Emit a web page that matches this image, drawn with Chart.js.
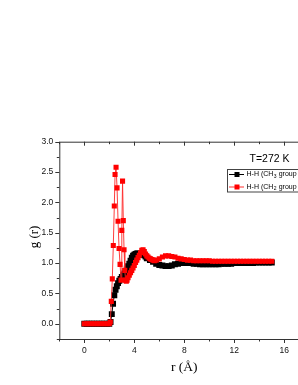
<!DOCTYPE html>
<html>
<head>
<meta charset="utf-8">
<script src="https://cdn.jsdelivr.net/npm/chart.js@4.4.0/dist/chart.umd.min.js"></script>
<style>
  html, body { margin: 0; padding: 0; background: #fff; overflow: hidden; }
  #wrap { position: relative; width: 320px; height: 385px; }
</style>
</head>
<body>
<div id="wrap"><canvas id="rdf"></canvas></div>
<script>
// H-H (CH3 group) - black
const ch3R = [0, 0.2, 0.4, 0.6, 0.8, 1.0, 1.2, 1.4, 1.6, 1.8, 2.0,
  2.1, 2.2, 2.3, 2.4, 2.5, 2.6, 2.7, 2.8, 2.9, 3.0, 3.1, 3.2, 3.3, 3.4, 3.5, 3.6, 3.7, 3.8, 3.9,
  4.0, 4.1, 4.2, 4.3, 4.4, 4.5, 4.6, 4.7, 4.8, 4.9,
  5.0, 5.25, 5.5, 5.75, 6.0, 6.25, 6.5, 6.75, 7.0, 7.25, 7.5, 7.75, 8.0, 8.25, 8.5, 8.75,
  9.0, 9.25, 9.5, 9.75, 10.0, 10.25, 10.5, 10.75, 11.0, 11.25, 11.5, 11.75, 12.0, 12.25,
  12.5, 12.75, 13.0, 13.25, 13.5, 13.75, 14.0, 14.25, 14.5, 14.75, 15.0];
const ch3G = [0, 0, 0, 0, 0, 0, 0, 0, 0, 0, 0,
  0.03, 0.16, 0.33, 0.47, 0.56, 0.62, 0.67, 0.71, 0.74, 0.77, 0.80, 0.83, 0.87, 0.91, 0.95, 0.99, 1.04, 1.09, 1.12,
  1.14, 1.15, 1.16, 1.16, 1.15, 1.15, 1.14, 1.14, 1.13, 1.11,
  1.08, 1.05, 1.02, 0.99, 0.97, 0.96, 0.95, 0.95, 0.96, 0.98, 0.99, 1.0, 1.0, 1.0, 1.0, 0.99,
  0.99, 0.98, 0.98, 0.98, 0.98, 0.98, 0.98, 0.98, 0.99, 0.99, 0.99, 0.99, 1.0, 1.0,
  1.0, 1.0, 1.0, 1.0, 1.0, 1.01, 1.01, 1.01, 1.01, 1.01, 1.01];

// H-H (CH2 group) - red
const ch2R = [0, 0.2, 0.4, 0.6, 0.8, 1.0, 1.2, 1.4, 1.6, 1.8, 2.0,
  2.08, 2.16, 2.24, 2.32, 2.40, 2.46, 2.54, 2.62, 2.70, 2.78, 2.86, 2.94, 3.00, 3.06, 3.12, 3.18,
  3.24, 3.30, 3.36, 3.42, 3.5, 3.6, 3.7, 3.8, 3.9, 4.0, 4.1, 4.2, 4.3, 4.4, 4.5, 4.6, 4.7, 4.8, 4.9,
  5.0, 5.1, 5.2, 5.3, 5.4, 5.5, 5.6, 5.75, 6.0, 6.25, 6.5, 6.75, 7.0, 7.25, 7.5, 7.75, 8.0,
  8.25, 8.5, 8.75, 9.0, 9.25, 9.5, 9.75, 10.0, 10.25, 10.5, 10.75, 11.0, 11.25, 11.5, 11.75,
  12.0, 12.25, 12.5, 12.75, 13.0, 13.25, 13.5, 13.75, 14.0, 14.25, 14.5, 14.75, 15.0];
const ch2G = [0, 0, 0, 0, 0, 0, 0, 0, 0, 0, 0,
  0.03, 0.37, 0.74, 1.29, 1.94, 2.46, 2.58, 2.24, 1.69, 1.24, 0.98, 0.72, 1.54, 2.35, 1.70, 1.22,
  0.88, 0.72, 0.70, 0.72, 0.76, 0.80, 0.84, 0.88, 0.92, 0.96, 1.01, 1.05, 1.09, 1.13, 1.17, 1.21, 1.22, 1.19, 1.15,
  1.12, 1.10, 1.08, 1.07, 1.06, 1.05, 1.04, 1.05, 1.07, 1.10, 1.12, 1.12, 1.11, 1.10, 1.08, 1.07, 1.06,
  1.05, 1.05, 1.04, 1.04, 1.04, 1.04, 1.04, 1.04, 1.03, 1.03, 1.03, 1.03, 1.03, 1.03, 1.03,
  1.03, 1.03, 1.03, 1.03, 1.03, 1.03, 1.03, 1.03, 1.03, 1.03, 1.03, 1.03, 1.03];

const xTicks = [0, 4, 8, 12, 16];
const yTicks = [0, 0.5, 1.0, 1.5, 2.0, 2.5, 3.0];
const tempLabel = 'T=272 K';

const toPts = (rs, gs) => rs.map((r, i) => ({ x: r, y: gs[i] }));

// axis frame, minor ticks, titles and the legend box
const decor = {
  id: 'decor',
  afterDraw(chart) {
    const ctx = chart.ctx;
    const a = chart.chartArea;
    const xs = chart.scales.x, ys = chart.scales.y;
    ctx.save();
    ctx.strokeStyle = '#333';
    ctx.lineWidth = 1;
    ctx.beginPath();
    ctx.rect(a.left + 0.5, a.top + 0.5, a.right - a.left, a.bottom - a.top);
    ctx.stroke();

    ctx.beginPath();
    for (let v = -2; v <= 18; v += 2) {
      const px = Math.round(xs.getPixelForValue(v)) + 0.5;
      const len = v % 4 === 0 ? 4 : 2.5;
      ctx.moveTo(px, a.bottom); ctx.lineTo(px, a.bottom + len);
      ctx.moveTo(px, a.top); ctx.lineTo(px, a.top + len);
    }
    for (let v = -0.25; v <= 3.001; v += 0.25) {
      const py = Math.round(ys.getPixelForValue(v)) + 0.5;
      const major = Math.abs(v * 2 - Math.round(v * 2)) < 1e-6;
      const len = major ? 4 : 2.5;
      ctx.moveTo(a.left, py); ctx.lineTo(a.left - len, py);
    }
    ctx.stroke();

    // axis titles
    ctx.fillStyle = '#000';
    ctx.font = '13.5px "Liberation Serif"';
    ctx.textAlign = 'center';
    ctx.textBaseline = 'middle';
    ctx.fillText('r (Å)', xs.getPixelForValue(8), 367);
    ctx.save();
    ctx.translate(34.5, 237);
    ctx.rotate(-Math.PI / 2);
    ctx.font = '13px "Liberation Serif"';
    ctx.fillText('g (r)', 0, 0);
    ctx.restore();

    // temperature
    ctx.textAlign = 'left';
    ctx.font = '10.5px "Liberation Sans"';
    ctx.fillText(tempLabel, 249.5, 159.5);

    // legend
    ctx.strokeStyle = '#444';
    ctx.strokeRect(227.5, 169.5, 100, 22.5);
    const entries = [
      { color: '#000', sub: '3', y: 174.5 },
      { color: '#ff0000', sub: '2', y: 187 }
    ];
    entries.forEach(e => {
      ctx.strokeStyle = e.color === '#000' ? '#000' : '#ff3030';
      ctx.beginPath();
      ctx.moveTo(229, e.y); ctx.lineTo(244, e.y);
      ctx.stroke();
      ctx.fillStyle = e.color;
      ctx.fillRect(234.5, e.y - 2.5, 5, 5);
      ctx.fillStyle = '#000';
      ctx.font = '7px "Liberation Sans"';
      let x = 246.5;
      ctx.fillText('H-H (CH', x, e.y);
      x += ctx.measureText('H-H (CH').width;
      ctx.font = '5px "Liberation Sans"';
      ctx.fillText(e.sub, x + 0.3, e.y + 2);
      x += ctx.measureText(e.sub).width + 0.6;
      ctx.font = '7px "Liberation Sans"';
      ctx.fillText(' group', x, e.y);
    });
    ctx.restore();
  }
};

new Chart(document.getElementById('rdf'), {
  type: 'scatter',
  data: {
    datasets: [
      {
        label: 'H-H (CH2 group)',
        data: toPts(ch2R, ch2G),
        showLine: true,
        borderColor: 'rgba(255,40,40,0.9)',
        borderWidth: 1,
        backgroundColor: '#ff0000',
        pointStyle: 'rect',
        pointRadius: 3.6,
        pointBorderWidth: 0,
        tension: 0,
        order: 1
      },
      {
        label: 'H-H (CH3 group)',
        data: toPts(ch3R, ch3G),
        showLine: true,
        borderColor: '#000',
        borderWidth: 1,
        backgroundColor: '#000',
        pointStyle: 'rect',
        pointRadius: 4.2,
        pointBorderWidth: 0,
        tension: 0,
        order: 2
      }
    ]
  },
  options: {
    responsive: true,
    maintainAspectRatio: false,
    animation: false,
    events: [],
    layout: { padding: { top: 141.7, right: 10.7, left: 0, bottom: 0 } },
    plugins: { legend: { display: false }, tooltip: { enabled: false } },
    scales: {
      x: {
        type: 'linear',
        min: -2,
        max: 18,
        grid: { display: false, drawTicks: false },
        border: { display: false },
        afterBuildTicks: s => { s.ticks = xTicks.map(v => ({ value: v })); },
        afterFit: s => { s.height = 46; },
        ticks: {
          padding: 7,
          color: '#111',
          font: { family: 'Liberation Sans', size: 8.5 },
          callback: v => String(v)
        }
      },
      y: {
        min: -0.25,
        max: 3.0,
        grid: { display: false, drawTicks: false },
        border: { display: false },
        afterBuildTicks: s => { s.ticks = yTicks.map(v => ({ value: v })); },
        afterFit: s => { s.width = 59.3; },
        ticks: {
          padding: 6,
          color: '#111',
          font: { family: 'Liberation Sans', size: 8.5 },
          callback: v => Number(v).toFixed(1)
        }
      }
    }
  },
  plugins: [decor]
});
</script>
</body>
</html>
